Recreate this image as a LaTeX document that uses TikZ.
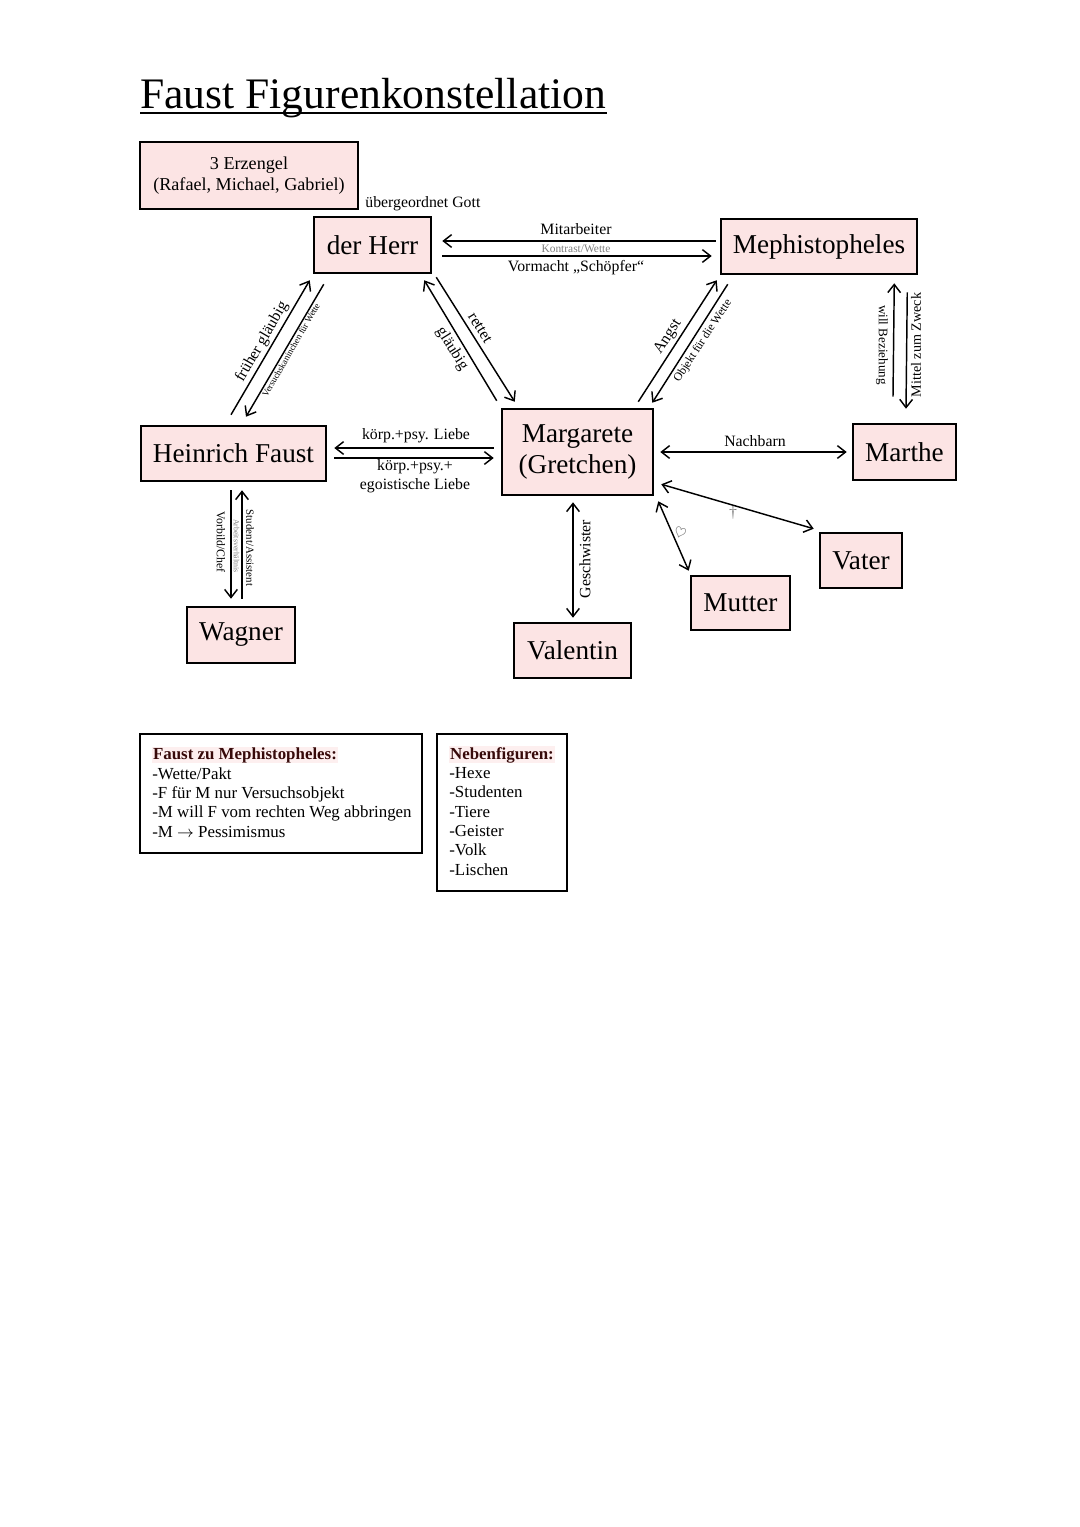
\documentclass[tikz,border=0pt]{standalone}
\usepackage{fontspec}
\setmainfont{Liberation Serif}
\usetikzlibrary{arrows.meta,calc}
\newdimen\px \px=0.551pt
\definecolor{boxpink}{RGB}{252,228,228}
\definecolor{labelgray}{RGB}{125,125,125}
\definecolor{kopfrot}{RGB}{55,10,10}
\tikzset{
  figur/.style={draw, line width=1.4pt, fill=boxpink, inner sep=0pt, font=\fontsize{15}{17}\selectfont},
  notiz/.style={draw, line width=1.4pt, fill=white, inner sep=0pt},
  lbl/.style={inner sep=0pt, font=\fontsize{8.7}{10.5}\selectfont},
  klein/.style={inner sep=0pt, font=\fontsize{6.5}{7}\selectfont},
  winzig/.style={inner sep=0pt, text=labelgray, font=\fontsize{5}{6}\selectfont},
  pfeil/.style={line width=0.8pt, -{Straight Barb[length=4.5pt,width=7pt]}},
  doppel/.style={line width=0.8pt, {Straight Barb[length=4.5pt,width=7pt]}-{Straight Barb[length=4.5pt,width=7pt]}},
}
\begin{document}
\begin{tikzpicture}[x=0.551pt, y=-0.551pt]
  \useasboundingbox (0,0) rectangle (1080,1527);
  \node[anchor=base west, inner sep=0pt, font=\fontsize{24}{28}\selectfont] (titel) at (140,108) {Faust Figurenkonstellation};
  \draw[line width=1.1pt] ($(titel.base west)+(0,5)$) -- ($(titel.base east)+(0,5)$);

  % Figuren
  \node[figur, font=\fontsize{10}{11.6}\selectfont, align=center, minimum width=218*\px, minimum height=67*\px] (erzengel) at (249,175.5) {3 Erzengel\\(Rafael, Michael, Gabriel)};
  \node[lbl, anchor=west] (gott) at (365,204) {übergeordnet Gott};
  \node[figur, minimum width=117*\px, minimum height=56*\px] (herr) at (372.5,245) {der Herr};
  \node[figur, minimum width=196*\px, minimum height=55*\px] (meph) at (819,246.5) {Mephistopheles};
  \node[figur, minimum width=185*\px, minimum height=55*\px] (faust) at (233.5,453.5) {Heinrich Faust};
  \node[figur, align=center, minimum width=151*\px, minimum height=86*\px] (marg) at (577.5,452) {Margarete\\(Gretchen)};
  \node[figur, minimum width=103*\px, minimum height=56*\px] (marthe) at (904.5,452) {Marthe};
  \node[figur, minimum width=82*\px, minimum height=55*\px] (vater) at (861,560.5) {Vater};
  \node[figur, minimum width=99*\px, minimum height=54*\px] (mutter) at (740.5,603) {Mutter};
  \node[figur, minimum width=108*\px, minimum height=56*\px] (wagner) at (241,635) {Wagner};
  \node[figur, minimum width=117*\px, minimum height=55*\px] (valentin) at (572.5,650.5) {Valentin};

  % Herr - Mephistopheles
  \draw[pfeil] ($(meph.west)+(-4,-5.5)$) -- ($(herr.east)+(10,-4)$);
  \draw[pfeil] ($(herr.east)+(10,11)$) -- ($(meph.west)+(-8,9.5)$);
  \node[lbl] (mitarb) at (576,229) {Mitarbeiter};
  \node[winzig, font=\fontsize{6.3}{7}\selectfont] (kontrast) at (576,248.5) {Kontrast/Wette};
  \node[lbl] (vormacht) at (576,268) {Vormacht „Schöpfer“};

  % Faust - Herr
  \draw[pfeil] ($(faust.north)+(-2.5,-10)$) -- ($(herr.south west)+(-3,6)$);
  \draw[pfeil] ($(herr.south west)+(11,10)$) -- ($(faust.north)+(12.5,-8)$);
  \node[lbl, rotate=60] (frueher) at (262,342) {früher gläubig};
  \node[winzig, text=black, rotate=60] (versuch) at (291,350) {Versuchskaninchen für Wette};

  % Herr - Margarete
  \draw[pfeil] ($(marg.north west)+(-4,-7)$) -- ($(herr.south east)+(-8,6)$);
  \draw[pfeil] ($(herr.south east)+(4,3)$) -- ($(marg.north west)+(14,-6)$);
  \node[lbl, rotate=-58] (glaeubig) at (452,349) {gläubig};
  \node[lbl, rotate=-58] (rettet) at (480,328) {rettet};

  % Margarete - Mephistopheles
  \draw[pfeil] ($(marg.north east)+(-16,-6)$) -- ($(meph.south west)+(-3,5)$);
  \draw[pfeil] ($(meph.south west)+(8,9)$) -- ($(marg.north east)+(-2,-5)$);
  \node[lbl, rotate=57] (angst) at (668,337) {Angst};
  \node[klein, rotate=57] (objekt) at (703,341) {Objekt für die Wette};

  % Mephistopheles - Marthe
  \draw[pfeil] ($(marthe.north)+(-11.5,-26)$) -- ($(meph.south east)+(-24,8)$);
  \draw[pfeil] ($(meph.south east)+(-11,17)$) -- ($(marthe.north)+(1.5,-14)$);
  \node[klein, font=\fontsize{7.2}{8}\selectfont, rotate=-90] (beziehung) at (882,345) {will Beziehung};
  \node[klein, font=\fontsize{7.8}{8}\selectfont, rotate=90] (zweck) at (916,345) {Mittel zum Zweck};

  % Faust - Margarete
  \draw[pfeil] ($(marg.west)+(-7,-4)$) -- ($(faust.east)+(7,-5.5)$);
  \draw[pfeil] ($(faust.east)+(7,4.5)$) -- ($(marg.west)+(-7,6)$);
  \node[lbl] (liebe) at (416,436) {körp.+psy. Liebe};
  \node[lbl, align=center] (egoliebe) at (415,476.5) {körp.+psy.+\\egoistische Liebe};

  % Faust - Wagner
  \draw[pfeil] ($(faust.south)+(-2.5,8)$) -- ($(wagner.north)+(-10,-7)$);
  \draw[pfeil] ($(wagner.north)+(1,-7)$) -- ($(faust.south)+(8.5,8)$);
  \node[klein, rotate=-90] (vorbild) at (221,542) {Vorbild/Chef};
  \node[winzig, font=\fontsize{4.3}{5}\selectfont, rotate=-90] (arbeit) at (236.5,546) {Arbeitsverhältnis};
  \node[klein, font=\fontsize{6}{7}\selectfont, rotate=-90] (student) at (250,548) {Student/Assistent};

  % Margarete - Familie, Nachbarn
  \draw[doppel] ($(marg.south)+(-4.5,6)$) -- ($(valentin.north)+(0.5,-4)$);
  \node[lbl, rotate=90] (geschw) at (585,559) {Geschwister};
  \draw[doppel] ($(marg.south east)+(4,5)$) -- ($(mutter.north west)+(-1,-4)$);
  \node[inner sep=0pt, text=labelgray, rotate=-20, font=\fontsize{8}{9}\selectfont] (herz) at (680,534) {$\heartsuit$};
  \draw[doppel] ($(marg.south east)+(7,-12)$) -- ($(vater.north west)+(-5,-3)$);
  \node[lbl, text=labelgray] (kreuz) at (733,513) {†};
  \draw[doppel] ($(marg.east)+(6,0)$) -- ($(marthe.west)+(-5,0)$);
  \node[lbl] (nachbarn) at (755,441) {Nachbarn};

  % Notizen
  \node[notiz, minimum width=282*\px, minimum height=119*\px] (fzm) at (281,793.5) {};
  \node[anchor=base west, inner sep=0.4pt, fill=boxpink!60, text=kopfrot, font=\fontsize{9.3}{10.65}\selectfont\bfseries] (fzmkopf) at (152,759) {Faust zu Mephistopheles:};
  \node[anchor=north west, align=left, inner sep=0pt, font=\fontsize{9.3}{10.65}\selectfont] (fzmtext) at (152,767) {-Wette/Pakt\\-F für M nur Versuchsobjekt\\-M will F vom rechten Weg abbringen\\-M $\rightarrow$ Pessimismus};

  \node[notiz, minimum width=130*\px, minimum height=157*\px] (neben) at (502,812.5) {};
  \node[anchor=base west, inner sep=0.4pt, fill=boxpink!60, text=kopfrot, font=\fontsize{9.3}{10.65}\selectfont\bfseries] (nebenkopf) at (449,759) {Nebenfiguren:};
  \node[anchor=north west, align=left, inner sep=0pt, font=\fontsize{9.3}{10.65}\selectfont] (nebentext) at (449,767) {-Hexe\\-Studenten\\-Tiere\\-Geister\\-Volk\\-Lischen};
\end{tikzpicture}
\end{document}
